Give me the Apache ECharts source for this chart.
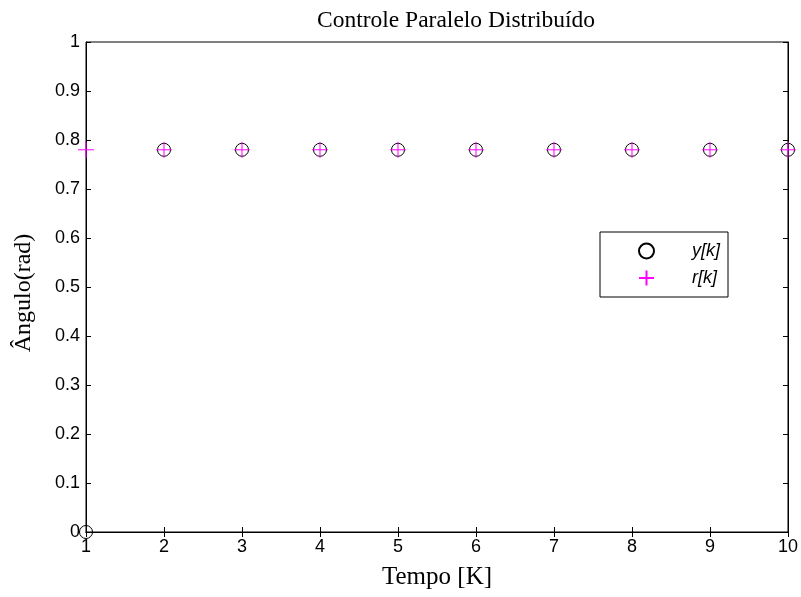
<!DOCTYPE html>
<html>
<head>
<meta charset="utf-8">
<script src="https://cdn.jsdelivr.net/npm/echarts@6/dist/echarts.min.js"></script>
<style>html,body{margin:0;padding:0;background:#fff;}#main{width:801px;height:597px;}</style>
</head>
<body>
<div id="main"></div>
<script>
// dados do grafico
var tempo=[1,2,3,4,5,6,7,8,9,10];
var yk=[0,0.78,0.78,0.78,0.78,0.78,0.78,0.78,0.78,0.78];
var rk=[0.78,0.78,0.78,0.78,0.78,0.78,0.78,0.78,0.78,0.78];

function pares(xs,ys){
	var out=[];
	for(var i=0;i<xs.length;i++){out.push([xs[i],ys[i]]);}
	return out;
}

var serif='"Liberation Serif","DejaVu Serif",serif';
var sans='"Liberation Sans",Arial,sans-serif';
var plus='path://M0,5L10,5M5,0L5,10';

var chart=echarts.init(document.getElementById('main'));
var option={
	animation:false,
	title:{
		text:'Controle Paralelo Distribuído',
		left:451,top:4,textAlign:'center',
		textStyle:{fontFamily:serif,fontSize:23.5,fontWeight:'normal',color:'#000'}
	},
	legend:{
		orient:'vertical',
		left:600,top:232,
		backgroundColor:'#fff',
		borderColor:'#000',borderWidth:1,borderRadius:0,
		padding:[10,8,10,38],
		itemWidth:15,itemHeight:15,itemGap:9,
		textStyle:{fontFamily:sans,fontStyle:'italic',fontSize:18,color:'#000',padding:[0,0,0,33]},
		data:['y[k]','r[k]']
	},
	grid:{left:86,right:13,top:42,bottom:65,show:true,borderColor:'#000',borderWidth:1},
	xAxis:[{
		type:'value',min:1,max:10,interval:1,
		name:'Tempo [K]',nameLocation:'middle',nameGap:33,
		nameTextStyle:{fontFamily:serif,fontSize:25,color:'#000'},
		axisLine:{lineStyle:{color:'#000'}},
		axisTick:{inside:true,length:5,lineStyle:{color:'#000'}},
		axisLabel:{fontFamily:sans,fontSize:18,color:'#000',margin:6},
		splitLine:{show:false}
	},{
		type:'value',min:1,max:10,interval:1,position:'top',
		axisLine:{lineStyle:{color:'#000'}},
		axisTick:{inside:true,length:5,lineStyle:{color:'#000'}},
		axisLabel:{show:false},splitLine:{show:false}
	}],
	yAxis:[{
		type:'value',min:0,max:1,interval:0.1,
		name:'Ângulo(rad)',nameLocation:'middle',nameGap:50,
		nameTextStyle:{fontFamily:serif,fontSize:24,color:'#000',padding:[0,12,0,0]},
		axisLine:{lineStyle:{color:'#000'}},
		axisTick:{inside:true,length:5,lineStyle:{color:'#000'}},
		axisLabel:{fontFamily:sans,fontSize:18,color:'#000',margin:6},
		splitLine:{show:false}
	},{
		type:'value',min:0,max:1,interval:0.1,position:'right',
		axisLine:{lineStyle:{color:'#000'}},
		axisTick:{inside:true,length:5,lineStyle:{color:'#000'}},
		axisLabel:{show:false},splitLine:{show:false}
	}],
	series:[{
		name:'y[k]',type:'scatter',clip:false,
		symbol:'circle',symbolSize:13,
		itemStyle:{color:'rgba(0,0,0,0)',borderColor:'#000',borderWidth:1,opacity:1},
		data:pares(tempo,yk)
	},{
		name:'r[k]',type:'scatter',clip:false,
		symbol:plus,symbolSize:16,
		itemStyle:{color:'rgba(0,0,0,0)',borderColor:'#ff00ff',borderWidth:1,opacity:1},
		data:pares(tempo,rk)
	}]
};
chart.setOption(option);
</script>
</body>
</html>
